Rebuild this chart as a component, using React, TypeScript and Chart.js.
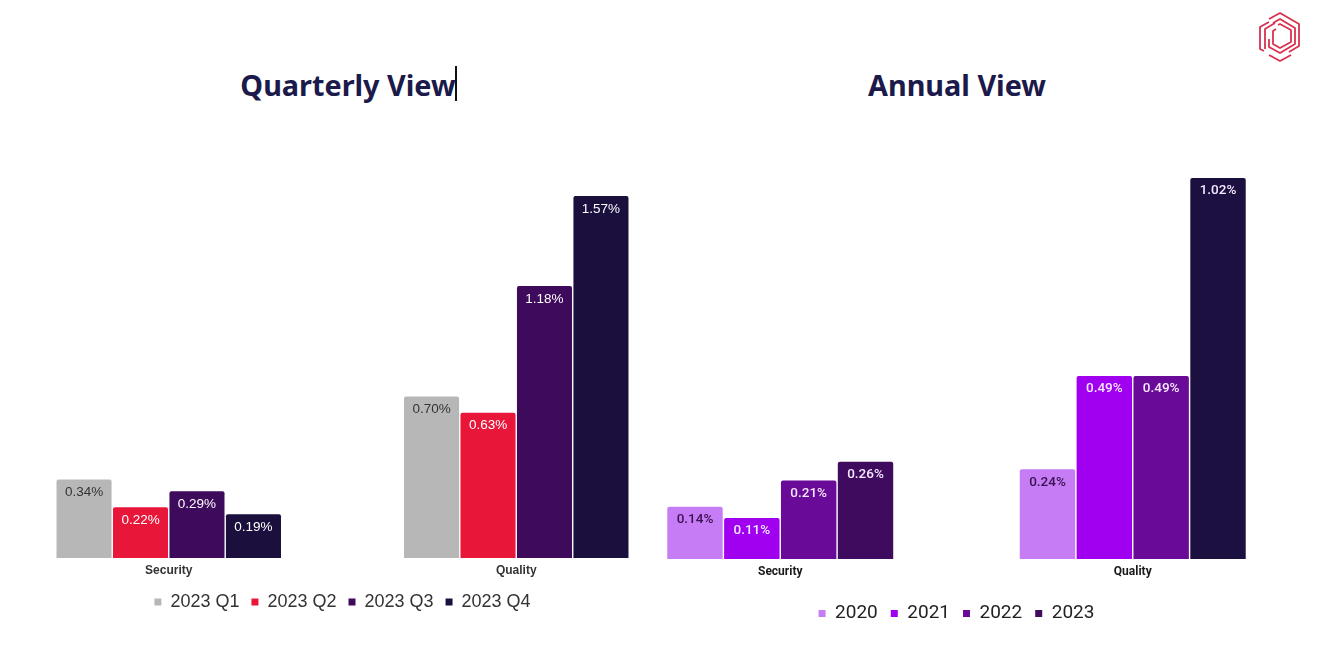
import React, { useEffect, useRef } from "react";
import { Chart, registerables } from "chart.js";

Chart.register(...registerables);

// ---------- data ----------
const categories = ["Security", "Quality"];

const quarterLabels = ["2023 Q1", "2023 Q2", "2023 Q3", "2023 Q4"];
const q1Values = [0.34, 0.7];
const q2Values = [0.22, 0.63];
const q3Values = [0.29, 1.18];
const q4Values = [0.19, 1.57];

const yearLabels = ["2020", "2021", "2022", "2023"];
const y2020Values = [0.14, 0.24];
const y2021Values = [0.11, 0.49];
const y2022Values = [0.21, 0.49];
const y2023Values = [0.26, 1.02];

// ---------- styles ----------
const quarterColors = ["#b7b7b7", "#e8173a", "#3e0a5c", "#1a0f3d"];
const quarterLabelColors = ["#333333", "#ffffff", "#ffffff", "#ffffff"];
const yearColors: (string | string[])[] = ["#c67cf5", "#a000ef", "#6a0a98", ["#3f0b5e", "#1c1040"]];
const yearLabelColors = ["#3b1152", "#f5e8ff", "#f5e8ff", "#f5e8ff"];

const valueLabelPlugin = {
  id: "valueLabels",
  afterDatasetsDraw(chart: any, _args: any, opts: any) {
    const ctx = chart.ctx;
    ctx.save();
    ctx.font = opts.font;
    ctx.textAlign = "center";
    ctx.textBaseline = "middle";
    chart.data.datasets.forEach((ds: any, di: number) => {
      const meta = chart.getDatasetMeta(di);
      meta.data.forEach((el: any, i: number) => {
        const v = ds.data[i];
        ctx.fillStyle = opts.colors[di];
        ctx.fillText(v.toFixed(2) + "%", el.x, el.y + opts.offset);
      });
    });
    ctx.restore();
  },
};

type BarProps = {
  left: number;
  top: number;
  width: number;
  height: number;
  seriesLabels: string[];
  series: number[][];
  colors: (string | string[])[];
  labelColors: string[];
  max: number;
  fontFamily: string;
  tickColor: string;
  tickPadding: number;
  axisHeight: number;
  legendFontSize: number;
  legendPadding: number;
  legendColor: string;
  valueFont: string;
  valueOffset: number;
  catPct: number;
};

function BarChart(p: BarProps) {
  const ref = useRef<HTMLCanvasElement | null>(null);
  useEffect(() => {
    if (!ref.current) return;
    const chart = new Chart(ref.current, {
      type: "bar",
      data: {
        labels: categories,
        datasets: p.series.map((d, i) => ({
          label: p.seriesLabels[i],
          data: d,
          backgroundColor: p.colors[i] as any,
          borderRadius: 2,
          borderSkipped: "bottom",
          barPercentage: 0.975,
          categoryPercentage: p.catPct,
        })),
      },
      options: {
        animation: false,
        responsive: false,
        maintainAspectRatio: false,
        layout: { padding: { top: 10, left: 0, right: 0, bottom: 0 } },
        scales: {
          x: {
            grid: { display: false, drawTicks: false },
            border: { display: false },
            ticks: {
              color: p.tickColor,
              padding: p.tickPadding,
              font: { family: p.fontFamily, size: 12, weight: "bold" },
            },
            afterFit: (s: any) => {
              s.height = p.axisHeight;
            },
          },
          y: {
            display: false,
            min: 0,
            max: p.max,
          },
        },
        plugins: {
          legend: {
            position: "bottom",
            labels: {
              boxWidth: 7,
              boxHeight: 7,
              padding: p.legendPadding,
              color: p.legendColor,
              font: { family: p.fontFamily, size: p.legendFontSize },
            },
          },
          tooltip: { enabled: false },
          valueLabels: { font: p.valueFont, colors: p.labelColors, offset: p.valueOffset },
        } as any,
      },
      plugins: [valueLabelPlugin],
    });
    return () => chart.destroy();
  }, []);
  return (
    <canvas
      ref={ref}
      width={p.width}
      height={p.height}
      style={{ position: "absolute", left: p.left, top: p.top, width: p.width, height: p.height }}
    />
  );
}

function Logo() {
  const c = "#d8324f";
  return (
    <svg
      width={50}
      height={52}
      viewBox="0 0 50 52"
      style={{ position: "absolute", left: 1255, top: 11 }}
    >
      <g fill="none" stroke={c} strokeWidth={1.8} strokeLinejoin="round">
        <polyline points="14,8 25,2 44,13 44,35 34,41" />
        <polyline points="9,40 5,38 5,16 14,11" />
        <polyline points="18,12 25,8 40,17 40,33 25,42 14,36 14,28" />
        <polyline points="10,38 10,18 20,12" />
        <polyline points="23,14 25,13 36,19 36,31 25,37 18,33 18,20 21,18" />
        <polyline points="14,44 25,50 36,44" />
      </g>
    </svg>
  );
}

export default function App() {
  const titleStyle: React.CSSProperties = {
    position: "absolute",
    top: 64,
    fontFamily: "'Noto Sans', 'Open Sans', sans-serif",
    fontWeight: 700,
    fontSize: 28.8,
    color: "#1b1a4a",
    lineHeight: "42px",
    whiteSpace: "nowrap",
    transform: "translateX(-50%)",
  };
  return (
    <div style={{ position: "absolute", left: 0, top: 0, width: 1328, height: 665, background: "#ffffff", overflow: "hidden" }}>
      <div style={{ ...titleStyle, left: 348 }}>Quarterly View</div>
      <div style={{ position: "absolute", left: 455, top: 66, width: 2, height: 35, background: "#111111" }} />
      <div style={{ ...titleStyle, left: 957 }}>Annual View</div>
      <Logo />
      <BarChart
        left={-5}
        top={156}
        width={695}
        height={465}
        seriesLabels={quarterLabels}
        series={[q1Values, q2Values, q3Values, q4Values]}
        colors={quarterColors}
        labelColors={quarterLabelColors}
        max={1.7}
        fontFamily="'Liberation Sans', Arial, sans-serif"
        tickColor="#333333"
        tickPadding={5}
        axisHeight={23}
        legendFontSize={18}
        legendPadding={12}
        legendColor="#333333"
        valueFont="13.5px 'Liberation Sans', Arial, sans-serif"
        valueOffset={13}
        catPct={0.65}
      />
      <BarChart
        left={604}
        top={138}
        width={705}
        height={495}
        seriesLabels={yearLabels}
        series={[y2020Values, y2021Values, y2022Values, y2023Values]}
        colors={yearColors}
        labelColors={yearLabelColors}
        max={1.1}
        fontFamily="Roboto, sans-serif"
        tickColor="#1a1a1a"
        tickPadding={6}
        axisHeight={32}
        legendFontSize={19}
        legendPadding={13}
        legendColor="#222222"
        valueFont="500 13.5px Roboto, sans-serif"
        valueOffset={13}
        catPct={0.645}
      />
    </div>
  );
}
